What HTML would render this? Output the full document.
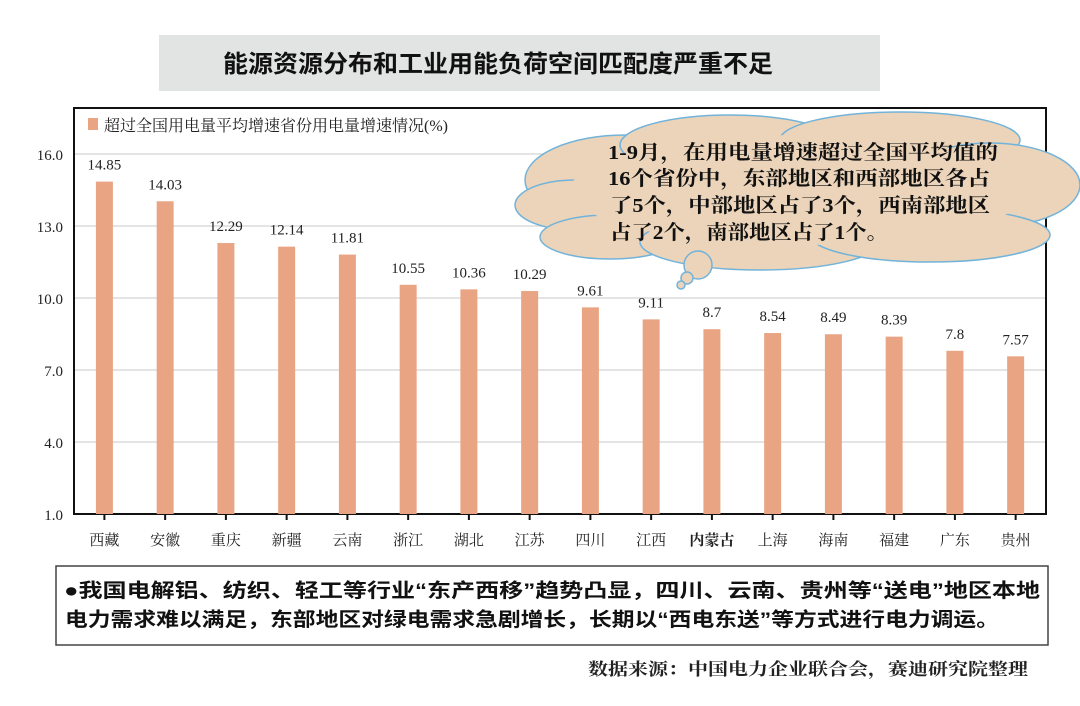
<!DOCTYPE html>
<html><head><meta charset="utf-8"><style>
body{margin:0;background:#fff;}
</style></head><body>
<svg width="1080" height="701" viewBox="0 0 1080 701" xmlns="http://www.w3.org/2000/svg">
<rect width="1080" height="701" fill="#fff"/>
<rect x="159" y="35" width="721" height="56" fill="#e2e3e3"/>
<text x="223" y="72" textLength="550" lengthAdjust="spacingAndGlyphs" font-family="'Liberation Sans','Noto Sans CJK SC',sans-serif" font-size="24" font-weight="bold" fill="#111">能源资源分布和工业用能负荷空间匹配度严重不足</text>
<g stroke="#dcdcdc" stroke-width="1.5">
<line x1="74" y1="154" x2="1046" y2="154"/>
<line x1="74" y1="226" x2="1046" y2="226"/>
<line x1="74" y1="298" x2="1046" y2="298"/>
<line x1="74" y1="370" x2="1046" y2="370"/>
<line x1="74" y1="442" x2="1046" y2="442"/>
</g>
<rect x="74" y="108" width="972" height="406" fill="none" stroke="#111" stroke-width="2"/>
<rect x="88" y="118" width="10" height="12" fill="#e9a583"/>
<text x="104" y="131" font-family="'Liberation Serif','Noto Serif CJK SC',serif" font-size="16" fill="#222">超过全国用电量平均增速省份用电量增速情况(%)</text>
<g font-family="'Liberation Serif',serif" font-size="15" fill="#222" text-anchor="end">
<text x="63" y="160">16.0</text><text x="63" y="232">13.0</text><text x="63" y="304">10.0</text><text x="63" y="376">7.0</text><text x="63" y="448">4.0</text><text x="63" y="520">1.0</text>
</g>
<g id="bars" fill="#e9a583"></g>
<g id="lbl"></g>
<g fill="none" stroke="#111" stroke-width="2">
<path id="ticks" d=""/>
</g>
<script>
var v=[14.85,14.03,12.29,12.14,11.81,10.55,10.36,10.29,9.61,9.11,8.7,8.54,8.49,8.39,7.8,7.57];
var n=["西藏","安徽","重庆","新疆","云南","浙江","湖北","江苏","四川","江西","内蒙古","上海","海南","福建","广东","贵州"];
var ns="http://www.w3.org/2000/svg",b=document.getElementById("bars"),l=document.getElementById("lbl"),d="";
for(var i=0;i<16;i++){var cx=104.4+i*60.75,y=514-(v[i]-1)*24;
var r=document.createElementNS(ns,"rect");r.setAttribute("x",cx-8.5);r.setAttribute("y",y);r.setAttribute("width",17);r.setAttribute("height",514-y);b.appendChild(r);
var t=document.createElementNS(ns,"text");t.setAttribute("x",cx);t.setAttribute("y",y-12);t.setAttribute("text-anchor","middle");t.setAttribute("font-family","'Liberation Serif',serif");t.setAttribute("font-size","15");t.setAttribute("fill","#222");t.textContent=v[i];l.appendChild(t);
var c=document.createElementNS(ns,"text");c.setAttribute("x",cx);c.setAttribute("y",545);c.setAttribute("text-anchor","middle");c.setAttribute("font-family","'Liberation Serif','Noto Serif CJK SC',serif");c.setAttribute("font-size","15");c.setAttribute("fill","#222");if(i==10)c.setAttribute("font-weight","bold");c.textContent=n[i];l.appendChild(c);
d+="M"+cx+" 514v6";}
document.getElementById("ticks").setAttribute("d",d);
</script>
<g fill="#ebd4b9" stroke="#72b3da" stroke-width="1.5">
<ellipse cx="625" cy="180" rx="100" ry="45"/>
<ellipse cx="730" cy="145" rx="110" ry="30"/>
<ellipse cx="900" cy="140" rx="120" ry="28"/>
<ellipse cx="990" cy="185" rx="90" ry="42"/>
<ellipse cx="575" cy="205" rx="60" ry="25"/>
<ellipse cx="610" cy="237" rx="70" ry="22"/>
<ellipse cx="760" cy="242" rx="120" ry="28"/>
<ellipse cx="930" cy="235" rx="120" ry="27"/>
<ellipse cx="800" cy="190" rx="230" ry="55" stroke="none"/>
<circle cx="698" cy="265" r="14"/>
<circle cx="687" cy="278" r="6"/>
<circle cx="681" cy="285" r="4"/>
</g>
<g font-family="'Liberation Serif','Noto Serif CJK SC',serif" font-size="20" font-weight="bold" fill="#111">
<text x="608" y="159" textLength="390" lengthAdjust="spacingAndGlyphs">1-9月，在用电量增速超过全国平均值的</text>
<text x="608" y="185" textLength="382" lengthAdjust="spacingAndGlyphs">16个省份中，东部地区和西部地区各占</text>
<text x="610" y="212" textLength="380" lengthAdjust="spacingAndGlyphs">了5个，中部地区占了3个，西南部地区</text>
<text x="610" y="239" textLength="278" lengthAdjust="spacingAndGlyphs">占了2个，南部地区占了1个。</text>
</g>
<rect x="56" y="566" width="992" height="79" fill="#fff" stroke="#444" stroke-width="1.5"/>
<g font-family="'Liberation Sans','Noto Sans CJK SC',sans-serif" font-size="19.5" font-weight="bold" fill="#111">
<text x="64" y="597" textLength="976" lengthAdjust="spacingAndGlyphs">●我国电解铝、纺织、轻工等行业“东产西移”趋势凸显，四川、云南、贵州等“送电”地区本地</text>
<text x="65" y="626" textLength="934" lengthAdjust="spacingAndGlyphs">电力需求难以满足，东部地区对绿电需求急剧增长，长期以“西电东送”等方式进行电力调运。</text>
</g>
<text x="588" y="675" textLength="440" lengthAdjust="spacingAndGlyphs" font-family="'Noto Serif CJK SC',serif" font-size="17" font-weight="bold" fill="#222">数据来源：中国电力企业联合会，赛迪研究院整理</text>
</svg>
</body></html>
